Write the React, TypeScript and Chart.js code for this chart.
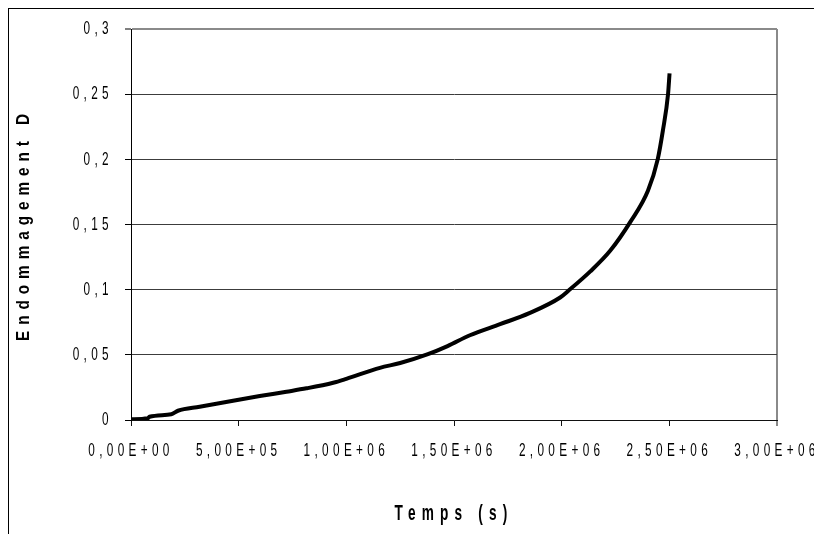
import React, { useEffect, useRef } from "react";
import { Chart, registerables } from "chart.js";

Chart.register(...registerables);

// Time (s)
const times = [
  0, 7.8e4, 8.6e4, 1.87e5, 2.18e5, 3.19e5, 4.74e5, 5.98e5, 7.22e5, 8.15e5,
  9.39e5, 1.0e6, 1.156e6, 1.25e6, 1.379e6, 1.47e6, 1.574e6, 1.714e6, 1.85e6,
  1.993e6, 2.03e6, 2.133e6, 2.226e6, 2.319e6, 2.401e6, 2.446e6, 2.47e6,
  2.494e6, 2.501e6,
];
// Damage D
const damage = [
  0.0005, 0.0013, 0.0025, 0.0044, 0.0071, 0.0102, 0.0148, 0.0184, 0.0217,
  0.0243, 0.0286, 0.0316, 0.04, 0.0437, 0.0505, 0.0567, 0.065, 0.0735, 0.082,
  0.094, 0.099, 0.114, 0.13, 0.152, 0.176, 0.2, 0.222, 0.25, 0.266,
];

const xTitle = "Temps (s)";
const yTitle = "Endommagement D";

function formatSci(v: number): string {
  if (v === 0) return "0,00E+00";
  const e = Math.floor(Math.log10(v) + 1e-9);
  const m = v / Math.pow(10, e);
  return m.toFixed(2).replace(".", ",") + "E+" + String(e).padStart(2, "0");
}
function formatDec(v: number): string {
  return String(Number(v.toFixed(2))).replace(".", ",");
}

// text styling by font size: [compression, letterSpacing]
const textStyles: Record<string, [number, number]> = {
  "19": [0.62, 7],
  "22": [0.62, 10],
  "18": [0.85, 7],
};

export default function App() {
  const ref = useRef<HTMLCanvasElement | null>(null);
  useEffect(() => {
    const canvas = ref.current!;
    const ctx = canvas.getContext("2d") as any;
    const protoFill = CanvasRenderingContext2D.prototype.fillText;
    ctx.fillText = function (text: string, x: number, y: number, maxWidth?: number) {
      const m = /(\d+(?:\.\d+)?)px/.exec(this.font);
      const st = m ? textStyles[m[1]] : undefined;
      if (!st) {
        if (maxWidth === undefined) protoFill.call(this, text, x, y);
        else protoFill.call(this, text, x, y, maxWidth);
        return;
      }
      const prev = this.letterSpacing;
      this.letterSpacing = st[1] + "px";
      const w = this.measureText(text).width;
      let mw = w * st[0];
      if (typeof maxWidth === "number" && isFinite(maxWidth)) mw = Math.min(mw, maxWidth);
      protoFill.call(this, text, x, y, mw);
      this.letterSpacing = prev || "0px";
    };

    const chart = new Chart(canvas, {
      type: "line",
      data: {
        datasets: [
          {
            data: times.map((t, i) => ({ x: t, y: damage[i] })),
            borderColor: "#000",
            borderWidth: 4,
            pointRadius: 0,
            cubicInterpolationMode: "monotone",
            borderCapStyle: "butt",
            borderJoinStyle: "round",
          },
        ],
      },
      options: {
        animation: false,
        responsive: false,
        devicePixelRatio: 1,
        layout: { padding: { left: 0, top: 20, right: 37, bottom: 0 } },
        plugins: { legend: { display: false }, tooltip: { enabled: false } },
        scales: {
          x: {
            type: "linear",
            min: 0,
            max: 3e6,
            afterBuildTicks: (s: any) => {
              s.ticks = [0, 5e5, 1e6, 1.5e6, 2e6, 2.5e6, 3e6].map((v) => ({ value: v }));
            },
            afterFit: (s: any) => {
              s.height = 114;
              s.paddingLeft = 0;
              s.paddingRight = 0;
            },
            border: { display: true, color: "#111", width: 1 },
            grid: {
              color: (c: any) => (c.tick && c.tick.value === 3e6 ? "#8a8a8a" : "rgba(0,0,0,0)"),
              lineWidth: (c: any) => (c.tick && c.tick.value === 3e6 ? 2 : 1),
              tickColor: "#111",
              tickLength: 6,
              tickWidth: 1,
            },
            ticks: {
              autoSkip: false,
              maxRotation: 0,
              minRotation: 0,
              padding: 13,
              color: "#000",
              font: { size: 19, family: "'Liberation Sans', Arial, sans-serif" },
              callback: (v: any) => formatSci(Number(v)),
            },
            title: {
              display: true,
              text: xTitle,
              color: "#000",
              font: { size: 22, weight: "bold", family: "'Liberation Sans', Arial, sans-serif" },
              padding: { top: 0, bottom: 7 },
            },
          },
          y: {
            type: "linear",
            min: 0,
            max: 0.3,
            afterBuildTicks: (s: any) => {
              s.ticks = [0, 0.05, 0.1, 0.15, 0.2, 0.25, 0.3].map((v) => ({ value: v }));
            },
            afterFit: (s: any) => {
              s.width = 122;
              s.paddingTop = 0;
              s.paddingBottom = 0;
            },
            border: { display: true, color: "#000", width: 1 },
            grid: {
              color: (c: any) => (c.tick && c.tick.value === 0.3 ? "#8a8a8a" : "#3c3c3c"),
              lineWidth: (c: any) => (c.tick && c.tick.value === 0.3 ? 2 : 1),
              tickColor: "#000",
              tickLength: 6,
              tickWidth: 1,
            },
            ticks: {
              padding: 12,
              color: "#000",
              font: { size: 19, family: "'Liberation Sans', Arial, sans-serif" },
              callback: (v: any) => formatDec(Number(v)),
            },
            title: {
              display: true,
              text: yTitle,
              color: "#000",
              font: { size: 18, weight: "bold", family: "'Liberation Sans', Arial, sans-serif" },
              padding: { top: 4, bottom: 0 },
            },
          },
        },
      },
    });
    return () => {
      chart.destroy();
    };
  }, []);

  return (
    <div
      style={{
        position: "fixed",
        left: 8,
        top: 8,
        width: 806,
        height: 526,
        boxSizing: "border-box",
        borderTop: "1px solid #000",
        borderLeft: "1px solid #000",
        background: "#fff",
      }}
    >
      <canvas ref={ref} width={805} height={525} style={{ display: "block", width: 805, height: 525 }} />
    </div>
  );
}
